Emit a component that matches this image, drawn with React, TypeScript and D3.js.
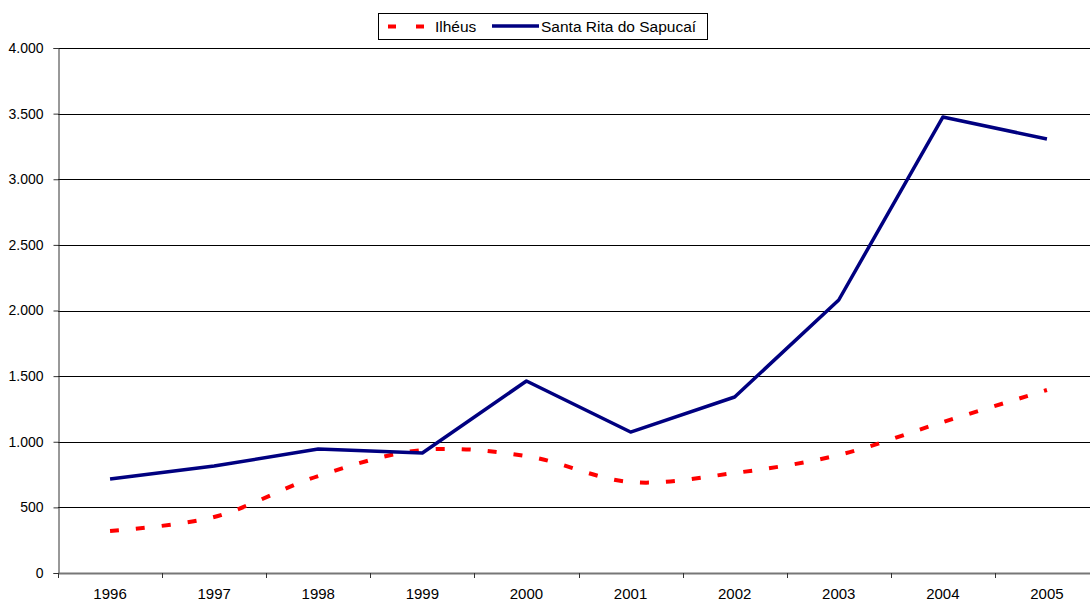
import React, { useEffect, useRef } from 'react';
import * as d3 from 'd3';

const years = ['1996', '1997', '1998', '1999', '2000', '2001', '2002', '2003', '2004', '2005'];
const ilheus = [320, 427, 739, 937, 891, 693, 762, 899, 1150, 1394];
const santaRita = [716, 815, 945, 914, 1463, 1074, 1341, 2080, 3474, 3307];
const yTicks = [0, 500, 1000, 1500, 2000, 2500, 3000, 3500, 4000];

const WIDTH = 1090;
const HEIGHT = 603;

const fmt = (v: number) => d3.format(',')(v).replace(/,/g, '.');

export default function App() {
  const svgRef = useRef<SVGSVGElement>(null);

  useEffect(() => {
    if (!svgRef.current) return;
    document.body.style.margin = '0';

    // Clear previous chart
    d3.select(svgRef.current).selectAll('*').remove();

    const margin = { top: 48, left: 58 };
    const plotRight = 1099; // plot runs slightly past the window edge
    const plotBottom = 573;

    const svg = d3.select(svgRef.current)
      .attr('width', WIDTH)
      .attr('height', HEIGHT)
      .style('font-family', '"Liberation Sans", Arial, sans-serif');

    const xScale = d3.scaleBand<string>()
      .domain(years)
      .range([margin.left, plotRight]);

    const yScale = d3.scaleLinear()
      .domain([0, 4000])
      .range([plotBottom, margin.top]);

    // Grid lines
    svg.append('g')
      .selectAll('line')
      .data(yTicks.filter(t => t > 0))
      .join('line')
      .attr('x1', margin.left)
      .attr('x2', plotRight)
      .attr('y1', d => Math.round(yScale(d)) + 0.5)
      .attr('y2', d => Math.round(yScale(d)) + 0.5)
      .attr('stroke', '#000')
      .attr('stroke-width', 1);

    // Y axis
    const yAxis = d3.axisLeft(yScale)
      .tickValues(yTicks)
      .tickSize(5)
      .tickPadding(10)
      .tickFormat(d => fmt(d as number));

    const yG = svg.append('g')
      .attr('transform', `translate(${margin.left + 0.5},0)`)
      .call(yAxis);
    yG.select('.domain').attr('stroke', '#333');
    yG.selectAll('.tick line').attr('stroke', '#333');
    yG.selectAll('.tick text')
      .style('font-size', '14px')
      .attr('fill', '#000');

    // X axis: ticks between categories
    svg.append('line')
      .attr('x1', margin.left)
      .attr('x2', plotRight)
      .attr('y1', plotBottom + 0.5)
      .attr('y2', plotBottom + 0.5)
      .attr('stroke', '#777')
      .attr('stroke-width', 2);

    const bounds = years.map(y => xScale(y) as number).concat([plotRight]);
    svg.append('g')
      .selectAll('line')
      .data(bounds)
      .join('line')
      .attr('x1', d => Math.round(d) + 0.5)
      .attr('x2', d => Math.round(d) + 0.5)
      .attr('y1', plotBottom)
      .attr('y2', plotBottom + 5)
      .attr('stroke', '#333');

    svg.append('g')
      .selectAll('text')
      .data(years)
      .join('text')
      .attr('x', d => (xScale(d) as number) + xScale.bandwidth() / 2)
      .attr('y', 599)
      .attr('text-anchor', 'middle')
      .style('font-size', '15px')
      .text(d => d);

    const cx = (i: number) => (xScale(years[i]) as number) + xScale.bandwidth() / 2;

    // Ilhéus (smoothed, dashed)
    const redLine = d3.line<number>()
      .x((_, i) => cx(i))
      .y(d => yScale(d))
      .curve(d3.curveCatmullRom.alpha(0.5));

    svg.append('path')
      .datum(ilheus)
      .attr('fill', 'none')
      .attr('stroke', '#ff0000')
      .attr('stroke-width', 4)
      .attr('stroke-dasharray', '9,17')
      .attr('d', redLine);

    // Santa Rita do Sapucaí
    const blueLine = d3.line<number>()
      .x((_, i) => cx(i))
      .y(d => yScale(d));

    svg.append('path')
      .datum(santaRita)
      .attr('fill', 'none')
      .attr('stroke', '#000080')
      .attr('stroke-width', 3.5)
      .attr('stroke-linejoin', 'round')
      .attr('d', blueLine);

    // Legend
    const lg = svg.append('g');
    lg.append('rect')
      .attr('x', 378.5)
      .attr('y', 13.5)
      .attr('width', 329)
      .attr('height', 26)
      .attr('fill', '#fff')
      .attr('stroke', '#000');

    lg.append('line')
      .attr('x1', 388)
      .attr('x2', 426)
      .attr('y1', 26.5)
      .attr('y2', 26.5)
      .attr('stroke', '#ff0000')
      .attr('stroke-width', 4)
      .attr('stroke-dasharray', '8,20');
    lg.append('text')
      .attr('x', 435)
      .attr('y', 32)
      .style('font-size', '15.5px')
      .text('Ilhéus');

    lg.append('line')
      .attr('x1', 492)
      .attr('x2', 539)
      .attr('y1', 26)
      .attr('y2', 26)
      .attr('stroke', '#000080')
      .attr('stroke-width', 3.5);
    lg.append('text')
      .attr('x', 541)
      .attr('y', 32)
      .style('font-size', '15.5px')
      .text('Santa Rita do Sapucaí');
  }, []);

  return (
    <div style={{ width: WIDTH, height: HEIGHT, overflow: 'hidden' }}>
      <svg ref={svgRef} style={{ display: 'block' }} />
    </div>
  );
}
